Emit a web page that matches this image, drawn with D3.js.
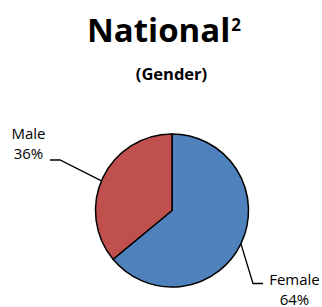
<!DOCTYPE html>
<html lang="en">
<head>
    <meta charset="UTF-8">
    <title>National Gender Pie</title>
    <script src="https://d3js.org/d3.v7.min.js"></script>
    <style>
        body { margin: 0; background: #fff; }
        text { font-family: "Open Sans", sans-serif; fill: #000; }
    </style>
</head>
<body>
    <svg></svg>
    <script>
        // Chart data
        const categories = ["Female", "Male"];
        const values = [64, 36];
        const colors = ["#4F81BD", "#C0504D"];

        const width = 322, height = 307;
        const cx = 172, cy = 210.5, radius = 76.5;

        const svg = d3.select("svg")
            .attr("width", width)
            .attr("height", height);

        // Title with superscript
        const title = svg.append("text")
            .attr("x", 87)
            .attr("y", 42)
            .style("font-size", "33px")
            .style("font-weight", "bold");
        title.append("tspan").text("National");
        title.append("tspan")
            .attr("dx", 1)
            .attr("dy", -11)
            .style("font-size", "17px")
            .text("2");

        svg.append("text")
            .attr("x", 171.5)
            .attr("y", 80)
            .attr("text-anchor", "middle")
            .style("font-size", "16.5px")
            .style("font-weight", "bold")
            .text("(Gender)");

        const data = categories.map((c, i) => ({ category: c, value: values[i], color: colors[i] }));

        const pie = d3.pie().sort(null).value(d => d.value);
        const arc = d3.arc().innerRadius(0).outerRadius(radius);

        const g = svg.append("g")
            .attr("transform", `translate(${cx}, ${cy})`);

        const arcs = pie(data);

        g.selectAll("path")
            .data(arcs)
            .enter()
            .append("path")
            .attr("d", arc)
            .attr("fill", d => d.data.color)
            .attr("stroke", "#000")
            .attr("stroke-width", 1.5);

        // Leader lines and labels
        const edgePoint = (a) => [Math.sin(a) * radius, -Math.cos(a) * radius];

        function addLabel(d, angle, elbow, end, lx, ly) {
            const p = edgePoint(angle);
            g.append("polyline")
                .attr("points", [p, elbow, end].map(q => q.join(",")).join(" "))
                .attr("fill", "none")
                .attr("stroke", "#000")
                .attr("stroke-width", 1.3);
            const t = g.append("text")
                .attr("x", lx)
                .attr("y", ly)
                .attr("text-anchor", "middle")
                .style("font-size", "15px");
            t.append("tspan").attr("x", lx).text(d.data.category);
            t.append("tspan").attr("x", lx).attr("dy", 20).text(d.data.value + "%");
        }

        // Female (lower right), Male (upper left)
        addLabel(arcs[0], 2.02, [81, 73], [91, 73], 122.5, 74.5);
        addLabel(arcs[1], 5.11, [-112, -50.5], [-122, -50.5], -143.5, -72);
    </script>
</body>
</html>
